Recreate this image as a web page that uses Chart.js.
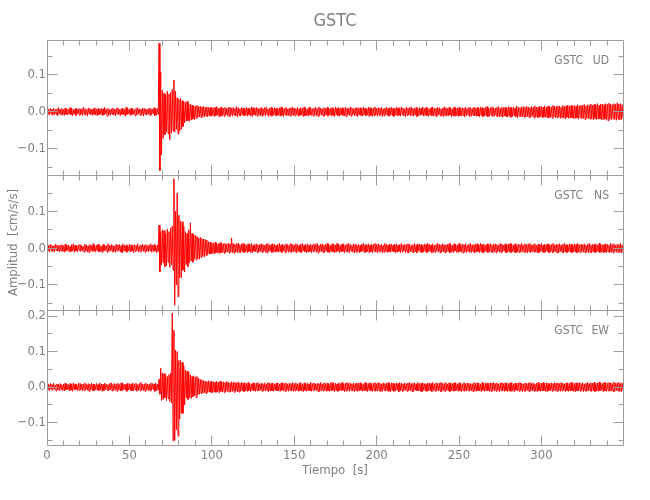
<!DOCTYPE html>
<html lang="es">
<head>
<meta charset="utf-8">
<title>GSTC</title>
<script src="https://cdn.jsdelivr.net/npm/chart.js@4.4.0/dist/chart.umd.min.js"></script>
<style>
  html, body { margin: 0; padding: 0; background: #fff; }
  #wrap { position: relative; width: 650px; height: 500px; overflow: hidden; }
  #wrap canvas { position: absolute; left: 0; top: 0; }
</style>
</head>
<body>
<div id="wrap">
  <canvas id="chartUD" width="650" height="500"></canvas>
  <canvas id="chartNS" width="650" height="500"></canvas>
  <canvas id="chartEW" width="650" height="500"></canvas>
</div>
<script>
// GSTC three-component record, shown as per-second max / min envelope

const station = 'GSTC';
const components = ['UD', 'NS', 'EW'];

// one max/min pair per second, first bin at t = 0 s
const sampleStep = 1;
// amplitudes are written in thousandths of cm/s/s
const milli = 0.001;

const udMax = [
  8,6,9,7,10,6,8,11,7,9,
  6,10,8,7,11,9,6,8,10,7,
  9,7,12,8,6,10,9,7,8,11,
  7,9,6,10,8,12,7,9,6,8,
  10,7,9,11,6,8,10,7,12,9,
  7,10,8,6,9,11,8,7,10,9,
  8,6,10,9,7,11,8,9,185,108,
  58,50,45,55,48,52,60,86,55,38,
  35,36,30,28,25,28,22,20,18,16,
  15,17,14,15,13,14,12,13,12,11,
  13,10,12,14,9,11,13,10,12,9,
  11,13,10,12,9,14,11,8,12,10,
  9,12,10,8,13,11,9,12,10,8,
  12,9,11,13,8,10,12,9,11,10,
  8,11,13,10,9,12,8,10,11,13,
  10,9,12,8,11,10,13,9,8,12,
  11,8,10,12,9,13,10,8,11,9,
  12,10,9,11,8,13,10,12,9,11,
  8,12,10,9,13,11,8,10,12,9,
  11,9,13,10,8,12,11,9,10,13,
  9,11,10,12,8,10,13,9,11,12,
  10,8,12,11,9,13,10,8,12,10,
  11,13,9,10,12,8,11,10,13,9,
  12,10,8,11,13,9,10,12,11,8,
  10,13,11,9,12,10,8,13,11,10,
  12,9,11,10,13,8,12,11,9,13,
  10,12,9,13,11,10,12,14,9,11,
  13,11,10,12,14,9,13,11,12,10,
  14,12,11,13,10,15,12,11,13,14,
  12,15,13,11,14,12,16,13,12,15,
  14,13,16,12,15,14,13,17,15,14,
  16,15,13,17,14,16,18,15,17,16,
  17,15,19,16,18,17,20,16,19,18,
  21,18,20,19,22,17,21,20,19,22,
  20,23,21,19,22,20,24,21,22,19,
  18
];
const udMin = [
  -7,-9,-6,-10,-8,-7,-11,-6,-9,-8,
  -10,-7,-9,-6,-8,-11,-7,-10,-6,-9,
  -8,-10,-7,-9,-12,-6,-8,-10,-7,-9,
  -11,-8,-7,-10,-9,-6,-12,-8,-10,-7,
  -9,-11,-6,-8,-10,-7,-9,-12,-8,-6,
  -10,-8,-7,-11,-9,-6,-10,-8,-12,-7,
  -9,-7,-10,-8,-6,-11,-9,-8,-159,-117,
  -72,-62,-55,-60,-75,-58,-52,-55,-48,-60,
  -52,-48,-40,-30,-25,-24,-26,-22,-20,-22,
  -18,-15,-14,-16,-13,-14,-12,-13,-11,-12,
  -10,-13,-11,-9,-14,-12,-10,-13,-9,-11,
  -13,-10,-12,-9,-11,-14,-10,-12,-8,-11,
  -10,-12,-9,-11,-13,-8,-10,-12,-9,-11,
  -12,-9,-11,-8,-13,-10,-12,-9,-10,-11,
  -9,-12,-10,-13,-8,-11,-10,-12,-9,-11,
  -11,-8,-12,-10,-9,-13,-11,-10,-12,-8,
  -10,-12,-9,-11,-13,-10,-8,-12,-11,-9,
  -12,-9,-11,-10,-13,-8,-11,-12,-9,-10,
  -11,-13,-9,-10,-12,-8,-11,-10,-13,-9,
  -10,-12,-8,-11,-9,-13,-10,-12,-11,-9,
  -12,-10,-9,-13,-11,-8,-10,-12,-9,-11,
  -13,-9,-11,-10,-12,-8,-11,-13,-10,-9,
  -11,-10,-12,-9,-13,-11,-10,-8,-12,-11,
  -10,-13,-9,-11,-12,-10,-14,-9,-11,-12,
  -13,-10,-12,-11,-9,-14,-11,-12,-10,-13,
  -11,-12,-10,-14,-11,-9,-13,-12,-10,-11,
  -12,-11,-14,-10,-13,-12,-11,-14,-12,-10,
  -13,-12,-11,-14,-13,-12,-15,-11,-13,-14,
  -12,-15,-13,-11,-14,-16,-12,-14,-13,-15,
  -14,-13,-16,-15,-12,-17,-14,-16,-15,-13,
  -16,-15,-14,-17,-16,-15,-18,-14,-17,-16,
  -15,-18,-17,-16,-19,-15,-18,-17,-16,-19,
  -18,-17,-20,-16,-19,-18,-21,-17,-19,-20,
  -19,-22,-18,-21,-20,-19,-22,-21,-20,-23,
  -24,-20,-22,-19,-21,-23,-20,-22,-21,-19,
  -17
];

const nsMax = [
  9,7,10,8,6,11,9,7,8,10,
  7,11,8,9,6,10,12,8,7,9,
  10,8,6,11,9,7,10,8,12,7,
  9,11,8,6,10,9,7,12,8,10,
  8,6,11,9,10,7,12,8,9,7,
  11,9,7,10,8,12,6,9,11,8,
  10,7,9,12,8,10,7,9,63,45,
  50,48,40,52,45,55,60,189,100,150,
  90,75,72,60,45,40,50,69,40,38,
  35,32,28,30,26,25,24,22,18,16,
  15,14,16,13,12,15,14,12,13,11,
  14,12,28,13,11,12,14,10,12,13,
  11,9,12,10,13,8,11,12,9,10,
  12,10,8,11,13,9,10,12,11,8,
  10,13,9,11,8,12,10,9,13,11,
  9,12,10,8,11,13,9,10,12,8,
  11,9,12,10,13,8,11,12,9,10,
  13,10,8,12,11,9,13,10,8,11,
  12,9,11,13,10,8,12,11,9,10,
  8,11,13,9,10,12,8,11,10,13,
  10,12,9,11,8,13,10,9,12,11,
  9,11,12,8,10,13,9,11,10,12,
  11,8,10,13,9,12,11,10,8,12,
  10,13,11,9,12,8,10,13,11,9,
  12,10,9,11,13,10,8,12,11,9,
  13,9,11,10,12,8,11,13,9,10,
  11,12,9,13,10,11,8,12,10,13,
  9,11,12,10,8,13,11,9,12,10,
  11,13,10,9,12,8,11,10,13,9,
  12,10,11,13,9,10,12,8,11,10,
  13,9,11,10,12,8,10,13,9,11,
  10,12,9,11,13,10,8,12,11,9,
  12,10,13,9,11,10,12,8,11,13,
  9,11,10,12,8,13,11,9,10,12,
  11,9,13,10,12,8,11,10,13,9,
  10
];
const nsMin = [
  -8,-10,-7,-9,-11,-6,-8,-10,-7,-9,
  -11,-8,-6,-10,-9,-7,-11,-8,-10,-6,
  -9,-7,-11,-8,-10,-12,-7,-9,-8,-10,
  -7,-10,-9,-12,-8,-6,-11,-9,-7,-10,
  -9,-11,-8,-7,-10,-12,-8,-9,-11,-7,
  -10,-8,-12,-9,-7,-11,-10,-8,-9,-11,
  -8,-10,-7,-11,-9,-8,-12,-10,-64,-45,
  -40,-50,-48,-38,-52,-45,-60,-155,-100,-132,
  -80,-80,-60,-65,-45,-50,-40,-35,-38,-30,
  -32,-28,-30,-25,-22,-24,-20,-18,-16,-15,
  -14,-16,-13,-12,-15,-13,-11,-14,-12,-10,
  -13,-11,-12,-14,-10,-12,-11,-13,-9,-12,
  -10,-12,-9,-11,-13,-8,-10,-12,-11,-9,
  -12,-9,-11,-13,-10,-8,-12,-10,-11,-9,
  -11,-10,-12,-8,-13,-9,-11,-10,-12,-9,
  -10,-13,-9,-11,-12,-8,-10,-12,-11,-9,
  -12,-10,-8,-11,-13,-9,-10,-12,-11,-8,
  -11,-12,-9,-10,-13,-11,-8,-12,-10,-9,
  -13,-9,-11,-12,-8,-10,-13,-11,-9,-12,
  -10,-8,-12,-11,-9,-13,-10,-12,-8,-11,
  -12,-10,-9,-13,-11,-8,-12,-10,-11,-9,
  -10,-13,-11,-9,-12,-10,-8,-12,-11,-13,
  -9,-11,-12,-10,-13,-8,-11,-12,-10,-9,
  -12,-10,-9,-13,-11,-12,-8,-10,-13,-11,
  -10,-12,-11,-9,-13,-10,-12,-8,-11,-12,
  -9,-11,-13,-10,-12,-9,-11,-12,-10,-13,
  -11,-9,-12,-10,-13,-11,-9,-12,-10,-11,
  -12,-10,-13,-9,-11,-12,-10,-8,-13,-11,
  -10,-12,-9,-11,-13,-10,-12,-11,-9,-12,
  -11,-13,-10,-12,-9,-11,-10,-13,-12,-9,
  -10,-12,-11,-9,-13,-10,-12,-11,-10,-13,
  -12,-9,-11,-13,-10,-12,-9,-11,-12,-10,
  -11,-13,-10,-12,-9,-11,-13,-10,-12,-11,
  -13,-10,-12,-11,-9,-12,-10,-13,-11,-12,
  -10,-12,-11,-13,-9,-11,-12,-10,-13,-11,
  -9
];

const ewMax = [
  9,7,10,8,11,6,9,8,10,7,
  8,11,9,7,10,8,12,9,7,10,
  11,8,9,12,7,10,8,11,9,8,
  10,7,12,9,8,11,9,7,10,12,
  8,10,9,11,7,12,10,8,9,11,
  10,8,12,9,11,7,10,13,8,9,
  11,9,8,12,10,9,11,8,22,53,
  40,38,35,30,35,40,208,160,104,100,
  75,75,70,60,48,45,42,35,30,32,
  28,30,25,22,20,18,17,16,18,15,
  17,15,14,16,13,17,14,15,13,16,
  14,12,15,13,14,12,15,11,13,12,
  12,10,13,11,9,12,10,11,13,9,
  11,10,12,9,13,11,10,12,9,11,
  12,9,11,13,10,12,9,11,10,13,
  10,12,9,11,13,8,12,10,11,9,
  13,10,12,9,11,10,13,9,12,10,
  11,9,12,13,10,11,9,12,10,13,
  9,11,13,10,12,9,11,10,12,11,
  12,10,9,13,11,10,12,9,11,13,
  10,13,11,9,12,10,11,13,9,12,
  11,9,12,10,13,11,9,12,10,11,
  13,10,11,12,9,13,10,11,12,10,
  9,12,11,10,13,9,12,10,11,13,
  11,10,13,9,12,11,10,12,13,9,
  12,11,9,13,10,12,11,10,9,13,
  10,12,11,9,13,10,12,11,10,12,
  11,13,10,12,9,11,13,10,12,11,
  10,12,13,9,11,10,12,13,11,9,
  12,10,11,13,10,12,9,11,13,10,
  11,13,10,12,11,9,12,10,13,11,
  12,10,13,11,9,12,11,10,13,12,
  10,12,11,13,10,12,9,11,13,10,
  12,11,13,10,12,14,11,10,13,12,
  11,13,12,10,14,11,12,13,10,12,
  11
];
const ewMin = [
  -8,-10,-7,-9,-6,-11,-8,-10,-7,-9,
  -11,-8,-7,-10,-9,-12,-8,-7,-10,-9,
  -8,-11,-10,-7,-9,-12,-8,-10,-11,-7,
  -9,-10,-8,-12,-11,-7,-9,-10,-8,-11,
  -10,-9,-12,-8,-11,-10,-7,-9,-12,-8,
  -9,-11,-10,-8,-12,-9,-11,-7,-10,-12,
  -8,-10,-11,-9,-7,-12,-10,-9,-20,-37,
  -35,-30,-38,-32,-40,-45,-151,-150,-120,-138,
  -90,-74,-74,-50,-30,-35,-30,-32,-28,-25,
  -30,-22,-20,-18,-17,-16,-18,-15,-14,-15,
  -16,-14,-15,-13,-16,-12,-14,-15,-13,-12,
  -14,-13,-12,-15,-11,-13,-14,-12,-11,-13,
  -11,-12,-10,-13,-9,-11,-12,-10,-11,-9,
  -12,-10,-11,-9,-13,-11,-10,-12,-9,-11,
  -10,-12,-9,-11,-13,-10,-12,-9,-11,-12,
  -11,-9,-12,-10,-11,-13,-9,-12,-10,-11,
  -12,-10,-9,-11,-13,-12,-10,-11,-9,-12,
  -10,-12,-11,-9,-13,-10,-12,-11,-10,-9,
  -13,-11,-10,-12,-9,-11,-13,-10,-12,-11,
  -9,-12,-11,-10,-13,-9,-11,-12,-10,-12,
  -11,-10,-13,-12,-9,-11,-10,-12,-13,-10,
  -12,-11,-9,-13,-10,-12,-11,-9,-12,-10,
  -10,-13,-12,-9,-11,-10,-12,-13,-9,-11,
  -12,-10,-11,-13,-9,-12,-10,-11,-12,-13,
  -10,-12,-9,-11,-13,-10,-12,-11,-9,-12,
  -11,-13,-10,-12,-11,-9,-12,-10,-13,-11,
  -12,-10,-11,-13,-9,-12,-11,-10,-12,-13,
  -10,-11,-12,-9,-13,-10,-11,-12,-10,-13,
  -11,-12,-10,-13,-9,-11,-12,-10,-13,-11,
  -12,-9,-13,-11,-10,-12,-11,-13,-10,-12,
  -11,-10,-12,-13,-11,-9,-12,-10,-11,-13,
  -10,-12,-11,-9,-13,-10,-12,-11,-10,-12,
  -13,-11,-10,-12,-9,-13,-11,-12,-10,-11,
  -12,-10,-13,-11,-12,-10,-9,-13,-11,-12,
  -10,-12,-11,-13,-12,-10,-11,-12,-13,-10,
  -9
];

// axis limits (cm/s/s) and labelled ticks for each panel
const yMin = [-0.171, -0.168, -0.163];
const yMax = [0.194, 0.199, 0.217];
const udTicks = [-0.1, 0, 0.1];
const nsTicks = [-0.1, 0, 0.1];
const ewTicks = [-0.1, 0, 0.1, 0.2];

// time axis (s)
const timeMax = 349.5;
const timeTicks = [0, 50, 100, 150, 200, 250, 300];

// Styling
const traceColor = '#ff0000';
const frameColor = '#9c9c9c';
const textColor = '#808080';
const fontFamily = "'Liberation Sans Narrow', 'DejaVu Sans Condensed', 'Liberation Sans', sans-serif";
const axisWidth = 47;
const majorTickLen = 10;
const minorTickLen = 5;
const minorTimeStep = 10;
const majorTimeStep = 50;
const minorAmpStep = 0.05;

// Frame, inward ticks and panel labels (drawn like the original plot)
const framePlugin = {
    id: 'seismoFrame',
    afterDraw(chart, args, opts) {
        const { ctx, chartArea: a } = chart;
        const x = chart.scales.x;
        const y = chart.scales.y;
        const left = Math.floor(a.left) + 0.5;
        const right = Math.floor(a.right) + 0.5;
        const top = Math.floor(a.top) + 0.5;
        const bottom = Math.floor(a.bottom) + 0.5;

        ctx.save();
        ctx.strokeStyle = frameColor;
        ctx.lineWidth = 1;
        ctx.beginPath();
        ctx.rect(left, top, right - left, bottom - top);

        for (let t = 0; t <= x.max; t += minorTimeStep) {
            const px = Math.floor(x.getPixelForValue(t)) + 0.5;
            const len = t % majorTimeStep === 0 ? majorTickLen : minorTickLen;
            ctx.moveTo(px, top);
            ctx.lineTo(px, top + len);
            ctx.moveTo(px, bottom);
            ctx.lineTo(px, bottom - len);
        }

        const k0 = Math.ceil(y.min / minorAmpStep - 1e-6);
        const k1 = Math.floor(y.max / minorAmpStep + 1e-6);
        for (let k = k0; k <= k1; k++) {
            const py = Math.floor(y.getPixelForValue(k * minorAmpStep)) + 0.5;
            const len = k % 2 === 0 ? majorTickLen : minorTickLen;
            ctx.moveTo(left, py);
            ctx.lineTo(left + len, py);
            ctx.moveTo(right, py);
            ctx.lineTo(right - len, py);
        }
        ctx.stroke();

        ctx.fillStyle = textColor;
        ctx.textBaseline = 'middle';
        ctx.textAlign = 'right';
        ctx.font = '12px ' + fontFamily;
        ctx.fillText(station, a.right - 40, a.top + 21);
        ctx.fillText(opts.component, a.right - 14, a.top + 21);

        if (opts.title) {
            ctx.textAlign = 'center';
            ctx.font = '18px ' + fontFamily;
            ctx.fillText(opts.title, (a.left + a.right) / 2, 21);
        }
        ctx.restore();
    }
};

function formatAmp(v) {
    if (Math.abs(v) < 1e-9) return '0.0';
    return (v < 0 ? '\u2212' : '') + Math.abs(v).toFixed(1);
}

// each second: its maximum first, its minimum half a bin later
function toTrace(maxValues, minValues) {
    const points = [];
    maxValues.forEach((v, i) => {
        points.push({ x: i * sampleStep, y: v * milli });
        points.push({ x: (i + 0.5) * sampleStep, y: minValues[i] * milli });
    });
    return points;
}

function makePanel(canvasId, index, maxValues, minValues, ampTicks, extra) {
    const showTime = !!extra.showTime;
    return new Chart(document.getElementById(canvasId), {
        type: 'line',
        data: {
            datasets: [{
                label: station + ' ' + components[index],
                data: toTrace(maxValues, minValues),
                borderColor: traceColor,
                borderWidth: 1,
                pointRadius: 0,
                fill: false,
                tension: 0
            }]
        },
        options: {
            responsive: false,
            animation: false,
            events: [],
            layout: { padding: extra.padding },
            plugins: {
                legend: { display: false },
                tooltip: { enabled: false },
                seismoFrame: { component: components[index], title: extra.title }
            },
            scales: {
                x: {
                    type: 'linear',
                    min: 0,
                    max: timeMax,
                    display: showTime,
                    grid: { display: false, drawTicks: false, tickLength: 0 },
                    border: { display: false },
                    afterBuildTicks: s => { s.ticks = timeTicks.map(v => ({ value: v })); },
                    afterFit: s => { if (showTime) s.height = 45; },
                    ticks: {
                        color: textColor,
                        padding: 3,
                        maxRotation: 0,
                        autoSkip: false,
                        font: { family: fontFamily, size: 13 },
                        callback: v => String(v)
                    },
                    title: {
                        display: showTime,
                        text: 'Tiempo  [s]',
                        color: textColor,
                        font: { family: fontFamily, size: 13 },
                        padding: { top: 0, bottom: 12 }
                    }
                },
                y: {
                    type: 'linear',
                    min: yMin[index],
                    max: yMax[index],
                    grid: { display: false, drawTicks: false, tickLength: 0 },
                    border: { display: false },
                    afterBuildTicks: s => { s.ticks = ampTicks.map(v => ({ value: v })); },
                    afterFit: s => { s.width = axisWidth; },
                    ticks: {
                        color: textColor,
                        padding: 1,
                        autoSkip: false,
                        font: { family: fontFamily, size: 13 },
                        callback: v => formatAmp(v)
                    },
                    title: {
                        display: !!extra.yTitle,
                        text: extra.yTitle || '',
                        color: textColor,
                        font: { family: fontFamily, size: 13 },
                        padding: { top: 6, bottom: 0 }
                    }
                }
            }
        },
        plugins: [framePlugin]
    });
}

document.addEventListener('DOMContentLoaded', function() {
    makePanel('chartUD', 0, udMax, udMin, udTicks, {
        title: station,
        padding: { top: 40, right: 27, bottom: 325, left: 0 }
    });
    makePanel('chartNS', 1, nsMax, nsMin, nsTicks, {
        yTitle: 'Amplitud  [cm/s/s]',
        padding: { top: 175, right: 27, bottom: 190, left: 0 }
    });
    makePanel('chartEW', 2, ewMax, ewMin, ewTicks, {
        showTime: true,
        padding: { top: 310, right: 27, bottom: 10, left: 0 }
    });
});
</script>
</body>
</html>
